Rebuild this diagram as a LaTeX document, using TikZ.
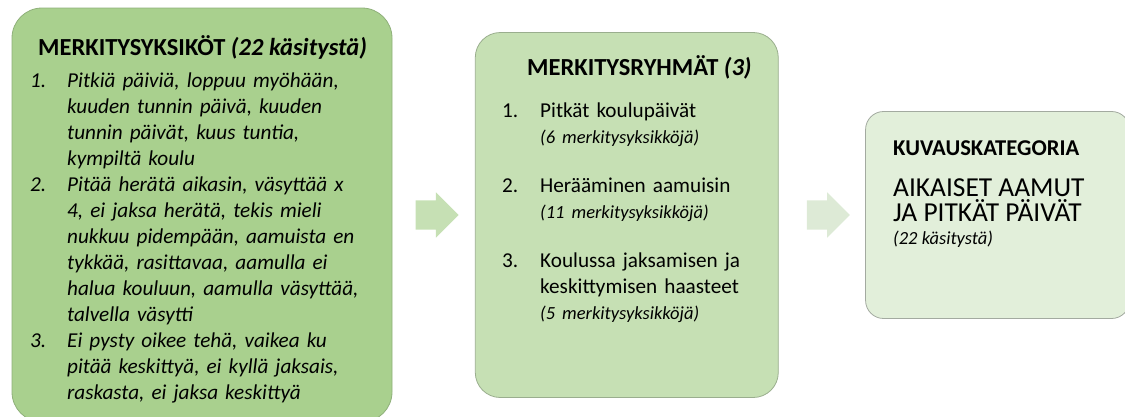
\documentclass[tikz,border=0pt]{standalone}
\usepackage{fontspec}
\setmainfont{Carlito}
\usetikzlibrary{positioning,shapes.arrows}

\definecolor{unitfill}{HTML}{A9D08E}
\definecolor{unitedge}{HTML}{8FB07A}
\definecolor{groupfill}{HTML}{C6E0B4}
\definecolor{groupedge}{HTML}{9AAE8E}
\definecolor{catfill}{HTML}{E2EFDA}
\definecolor{catedge}{HTML}{A3AAA0}
\definecolor{arrowdark}{HTML}{C6E0B4}
\definecolor{arrowlight}{HTML}{DDEAD6}

\newcommand{\topstrut}{\rule{0pt}{16pt}}
\newcommand{\listnum}[2]{\par\noindent\hangindent=#1\hangafter=1\makebox[#1][l]{\topstrut#2}}
\newcommand{\subnote}[1]{{\fontsize{18.5}{20}\selectfont\itshape #1}}

\tikzset{
  panel/.style={rectangle, line width=0.8pt, inner sep=0pt},
  blockarrow/.style={single arrow, inner xsep=0pt, inner ysep=14.5pt, minimum height=43pt,
    single arrow head extend=8pt, single arrow head indent=0pt, shape border rotate=0},
  heading/.style={inner sep=0pt, anchor=base west, font=\fontsize{24.5}{26}\selectfont\bfseries},
  listtext/.style={inner sep=0pt, anchor=north west, align=left, font=\fontsize{21.2}{26}\selectfont}
}

\begin{document}
\begin{tikzpicture}[x=1pt,y=-1pt]
\useasboundingbox (0,0) rectangle (1125,416);

% boxes and arrows
\node[panel, draw=unitedge, fill=unitfill, rounded corners=30pt,
  minimum width=380pt, minimum height=414pt] (units) at (202,215) {};
\node[blockarrow, fill=arrowdark, right=23pt of units] (arrow1) {};
\node[panel, draw=groupedge, fill=groupfill, rounded corners=25pt,
  minimum width=303pt, minimum height=365pt, right=16pt of arrow1] (groups) {};
\node[blockarrow, fill=arrowlight, right=28pt of groups] (arrow2) {};
\node[panel, draw=catedge, fill=catfill, rounded corners=18pt,
  minimum width=264pt, minimum height=207pt, right=15pt of arrow2] (category) {};

% merkitysyksiköt
\node[heading] (unitstitle) at (38,55) {MERKITYSYKSIKÖT \textit{(22 käsitystä)}};
\node[listtext, text width=355pt, font=\fontsize{21.2}{26}\selectfont\itshape] (unitlist) at (30,61) {%
  \listnum{37pt}{1.}Pitkiä päiviä, loppuu myöhään,\newline kuuden tunnin päivä, kuuden\newline tunnin päivät, kuus tuntia,\newline kympiltä koulu
  \listnum{37pt}{2.}Pitää herätä aikasin, väsyttää x\newline 4, ei jaksa herätä, tekis mieli\newline nukkuu pidempään, aamuista en\newline tykkää, rasittavaa, aamulla ei\newline halua kouluun, aamulla väsyttää,\newline talvella väsytti
  \listnum{37pt}{3.}Ei pysty oikee tehä, vaikea ku\newline pitää keskittyä, ei kyllä jaksais,\newline raskasta, ei jaksa keskittyä\par};

% merkitysryhmät
\node[heading] (groupstitle) at (527,75) {MERKITYSRYHMÄT \textit{(3)}};
\node[listtext, text width=270pt, font=\fontsize{21.2}{26}\selectfont] (grouplist) at (502,91) {%
  \listnum{38pt}{1.}Pitkät koulupäivät\newline \subnote{(6 merkitysyksikköjä)}
  \par\vspace{23pt}
  \listnum{38pt}{2.}Herääminen aamuisin\newline \subnote{(11 merkitysyksikköjä)}
  \par\vspace{23pt}
  \listnum{38pt}{3.}Koulussa jaksamisen ja\newline keskittymisen haasteet\newline \subnote{(5 merkitysyksikköjä)}\par};

% kuvauskategoria
\node[heading, font=\fontsize{22.6}{26}\selectfont\bfseries] (cattitle) at (893,155) {KUVAUSKATEGORIA};
\node[inner sep=0pt, anchor=base west, align=left, font=\fontsize{27.4}{25}\selectfont] (catname) at (893,221)
  {AIKAISET AAMUT\\ JA PITKÄT PÄIVÄT};
\node[inner sep=0pt, anchor=base west, font=\fontsize{18.5}{22}\selectfont\itshape] (catcount) at (893,244)
  {(22 käsitystä)};
\end{tikzpicture}
\end{document}
